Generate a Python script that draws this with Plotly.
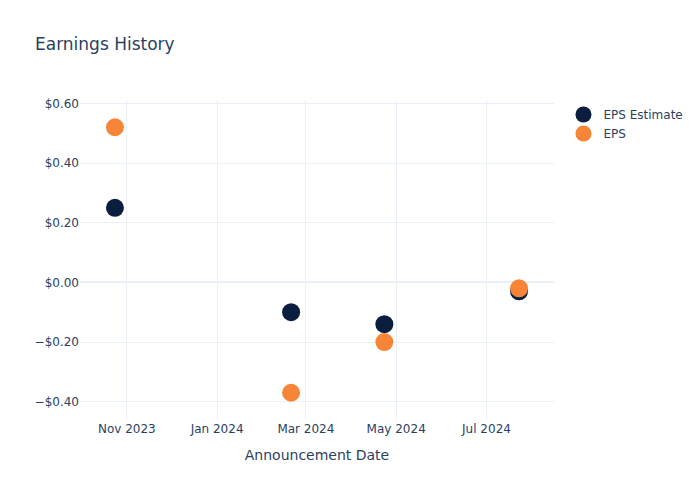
import plotly.graph_objects as go

dates = ["2023-10-24", "2024-02-20", "2024-04-23", "2024-07-23"]
eps_estimate = [0.25, -0.10, -0.14, -0.03]
eps_actual = [0.52, -0.37, -0.20, -0.02]

fig = go.Figure()
fig.add_trace(go.Scatter(x=dates, y=eps_estimate, mode="markers", name="EPS Estimate",
                         marker=dict(size=18, color="#0b1e3f")))
fig.add_trace(go.Scatter(x=dates, y=eps_actual, mode="markers", name="EPS",
                         marker=dict(size=18, color="#f68537")))
fig.update_layout(
    template="plotly_white",
    width=700, height=500,
    font=dict(family="DejaVu Sans"),
    title=dict(text="Earnings History"),
    xaxis=dict(title=dict(text="Announcement Date")),
    yaxis=dict(tickformat="$.2f"),
)
fig.write_html("out.html")
